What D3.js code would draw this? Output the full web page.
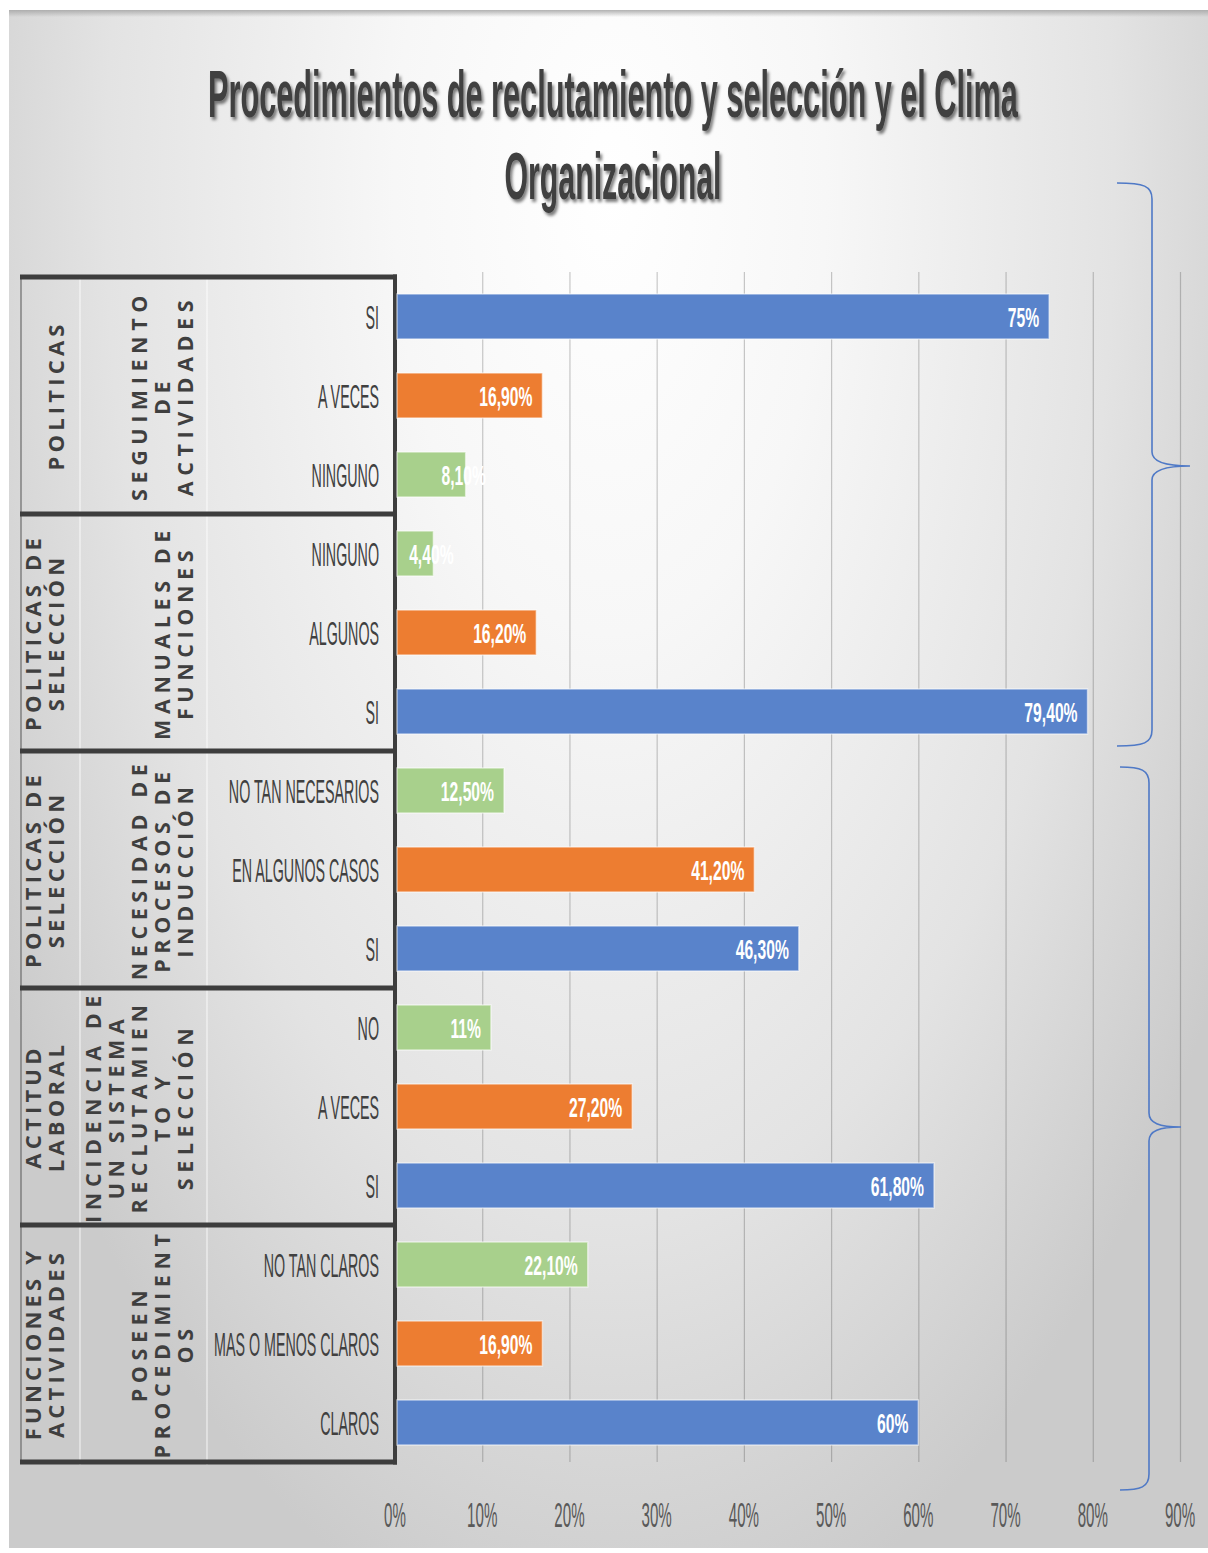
<!DOCTYPE html>
<html>
<head>
<meta charset="utf-8">
<script src="https://cdn.jsdelivr.net/npm/d3@7"></script>
<style>
  html, body { margin: 0; padding: 0; background: #ffffff; }
  svg { display: block; }
</style>
</head>
<body>
<div id="chart"></div>
<script>
// ---- data -------------------------------------------------------------
const categories = [
  "SI", "A VECES", "NINGUNO",
  "NINGUNO", "ALGUNOS", "SI",
  "NO TAN NECESARIOS", "EN ALGUNOS CASOS", "SI",
  "NO", "A VECES", "SI",
  "NO TAN CLAROS", "MAS O MENOS CLAROS", "CLAROS"
];
const values = [75, 16.9, 8.1, 4.4, 16.2, 79.4, 12.5, 41.2, 46.3, 11, 27.2, 61.8, 22.1, 16.9, 60];
const tones = [
  "alto", "medio", "bajo",
  "bajo", "medio", "alto",
  "bajo", "medio", "alto",
  "bajo", "medio", "alto",
  "bajo", "medio", "alto"
];
const outerGroups = [
  ["POLITICAS"],
  ["POLITICAS DE", "SELECCIÓN"],
  ["POLITICAS DE", "SELECCIÓN"],
  ["ACTITUD", "LABORAL"],
  ["FUNCIONES Y", "ACTIVIDADES"]
];
const innerGroups = [
  ["SEGUIMIENTO", "DE", "ACTIVIDADES"],
  ["MANUALES DE", "FUNCIONES"],
  ["NECESIDAD DE", "PROCESOS DE", "INDUCCIÓN"],
  ["INCIDENCIA DE", "UN SISTEMA", "RECLUTAMIEN", "TO Y", "SELECCIÓN"],
  ["POSEEN", "PROCEDIMIENT", "OS"]
];
const tickValues = [0, 10, 20, 30, 40, 50, 60, 70, 80, 90];
const titleLines = ["Procedimientos de reclutamiento y selección y el Clima", "Organizacional"];

// ---- setup ------------------------------------------------------------
const W = 1208, H = 1553;
const toneColor = { alto: "#5983cb", medio: "#ed7d31", bajo: "#a8d08c" };
const fmt = v => (v % 1 === 0 ? v + "%" : v.toFixed(2).replace(".", ",") + "%");

const svg = d3.select("#chart").append("svg")
  .attr("width", W).attr("height", H)
  .attr("viewBox", `0 0 ${W} ${H}`);

const defs = svg.append("defs");
const bg = defs.append("radialGradient")
  .attr("id", "panelBg")
  .attr("gradientUnits", "userSpaceOnUse")
  .attr("cx", 610).attr("cy", 190).attr("r", 720)
  .attr("gradientTransform", "translate(610,190) scale(1,2.05) translate(-610,-190)");
bg.append("stop").attr("offset", 0).attr("stop-color", "#ffffff");
bg.append("stop").attr("offset", 0.3).attr("stop-color", "#f7f7f7");
bg.append("stop").attr("offset", 0.7).attr("stop-color", "#e3e3e3");
bg.append("stop").attr("offset", 1).attr("stop-color", "#cbcbcb");

const topEdge = defs.append("linearGradient").attr("id", "topEdge")
  .attr("x1", 0).attr("y1", 0).attr("x2", 0).attr("y2", 1);
topEdge.append("stop").attr("offset", 0).attr("stop-color", "#a9a9a9").attr("stop-opacity", 0.9);
topEdge.append("stop").attr("offset", 1).attr("stop-color", "#a9a9a9").attr("stop-opacity", 0);

const shadow = defs.append("filter").attr("id", "titleShadow")
  .attr("x", "-5%").attr("y", "-20%").attr("width", "110%").attr("height", "150%");
shadow.append("feDropShadow")
  .attr("dx", 2).attr("dy", 3).attr("stdDeviation", 1.4)
  .attr("flood-color", "#000").attr("flood-opacity", 0.5);

// panel
svg.append("rect").attr("x", 9).attr("y", 10).attr("width", W - 9).attr("height", 1538)
  .attr("fill", "url(#panelBg)");
svg.append("rect").attr("x", 9).attr("y", 10).attr("width", W - 9).attr("height", 7)
  .attr("fill", "url(#topEdge)");

// ---- scales -----------------------------------------------------------
const plotTop = 277, plotBottom = 1462;
const x = d3.scaleLinear().domain([0, 90]).range([395, 1180]);
const y = d3.scaleBand().domain(d3.range(categories.length))
  .range([plotTop, plotBottom]).paddingInner(0.43).paddingOuter(0.215);
const step = y.step();

// ---- gridlines --------------------------------------------------------
const grid = svg.append("g")
  .attr("transform", `translate(0,${plotBottom})`)
  .call(d3.axisBottom(x).tickValues(tickValues.filter(t => t > 0))
    .tickSize(-(plotBottom - 272)).tickFormat(""));
grid.select(".domain").remove();
grid.selectAll(".tick line").attr("stroke", "#3a3a3a").attr("stroke-opacity", 0.27).attr("stroke-width", 1.2);

// ---- table on the left -------------------------------------------------
const table = svg.append("g");
[80, 207].forEach(cx => {
  table.append("line").attr("x1", cx).attr("x2", cx)
    .attr("y1", plotTop).attr("y2", plotBottom + 3)
    .attr("stroke", "#ffffff").attr("stroke-opacity", 0.7).attr("stroke-width", 1.2);
});
table.append("line").attr("x1", 21).attr("x2", 21)
  .attr("y1", plotTop).attr("y2", plotBottom)
  .attr("stroke", "#6a6a6a").attr("stroke-width", 1.2);

const groupCount = outerGroups.length;
d3.range(groupCount + 1).forEach(k => {
  const gy = plotTop + k * 3 * step;
  table.append("line").attr("x1", 20).attr("x2", 397)
    .attr("y1", gy).attr("y2", gy)
    .attr("stroke", "#3d3d3d").attr("stroke-width", 5);
});
table.append("line").attr("x1", 395).attr("x2", 395)
  .attr("y1", plotTop - 2.5).attr("y2", plotBottom + 2.5)
  .attr("stroke", "#3d3d3d").attr("stroke-width", 4);

// rotated group labels
function rotatedBlock(lines, gIndex, lastX, gap, size, spacing) {
  const cy = plotTop + (gIndex * 3 + 1.5) * step;
  const cap = size * 0.72;
  lines.forEach((ln, i) => {
    const cx = lastX - (lines.length - 1 - i) * gap;
    table.append("text")
      .attr("transform", `translate(${cx},${cy}) rotate(-90)`)
      .attr("x", 0).attr("y", cap / 2)
      .attr("text-anchor", "middle")
      .attr("font-family", "'Open Sans', 'Liberation Sans', sans-serif")
      .attr("font-weight", 700)
      .attr("font-size", size)
      .attr("letter-spacing", spacing)
      .attr("fill", "#3f3f3f")
      .text(ln);
  });
}
outerGroups.forEach((lines, i) => rotatedBlock(lines, i, 56, 23, 22, 4.2));
innerGroups.forEach((lines, i) => rotatedBlock(lines, i, 185, 23, 21.5, 5.6));

// category labels
svg.append("g").selectAll("text")
  .data(categories)
  .join("text")
  .attr("transform", (d, i) => `translate(379,${y(i) + y.bandwidth() / 2 + 12.5}) scale(0.42,1)`)
  .attr("text-anchor", "end")
  .attr("font-family", "'Liberation Sans', Arial, sans-serif")
  .attr("font-size", 34)
  .attr("fill", "#404040")
  .text(d => d);

// ---- bars -------------------------------------------------------------
svg.append("g").selectAll("rect")
  .data(values)
  .join("rect")
  .attr("x", x(0) + 2)
  .attr("y", (d, i) => y(i))
  .attr("width", d => x(d) - x(0) - 2)
  .attr("height", y.bandwidth())
  .attr("fill", (d, i) => toneColor[tones[i]])
  .attr("stroke", "#ffffff").attr("stroke-opacity", 0.55).attr("stroke-width", 1.5);

// value labels: inside the bar end, or centred on the end for short bars
const shortBar = d => x(d) - x(0) < 78;
svg.append("g").selectAll("text")
  .data(values)
  .join("text")
  .attr("transform", (d, i) => {
    const lx = shortBar(d) ? x(d) - 2 : x(d) - 10;
    return `translate(${lx},${y(i) + y.bandwidth() / 2 + 10}) scale(0.56,1)`;
  })
  .attr("text-anchor", d => (shortBar(d) ? "middle" : "end"))
  .attr("font-family", "'Liberation Sans', Arial, sans-serif")
  .attr("font-weight", "bold")
  .attr("font-size", 28)
  .attr("fill", "#ffffff")
  .text(d => fmt(d));

// ---- x axis labels ----------------------------------------------------
svg.append("g").selectAll("text")
  .data(tickValues)
  .join("text")
  .attr("transform", d => `translate(${x(d)},1527) scale(0.42,1)`)
  .attr("text-anchor", "middle")
  .attr("font-family", "'Liberation Sans', Arial, sans-serif")
  .attr("font-size", 36)
  .attr("fill", "#595959")
  .text(d => d + "%");

// ---- title (condensed to its line widths) -------------------------------
const titleWidths = [810, 217];
const titleBase = [117, 199];
titleLines.forEach((t, i) => {
  const g = svg.append("g").attr("filter", "url(#titleShadow)");
  const txt = g.append("text")
    .attr("x", 0).attr("y", 0)
    .attr("text-anchor", "middle")
    .attr("font-family", "'Liberation Sans', Arial, sans-serif")
    .attr("font-weight", "bold")
    .attr("font-size", 66)
    .attr("fill", "#404040")
    .text(t);
  const natural = txt.node().getComputedTextLength();
  txt.attr("transform", `translate(613,${titleBase[i]}) scale(${titleWidths[i] / natural},1)`);
});

// ---- braces -----------------------------------------------------------
function brace(xv, y0, yTip, y1, xEnd, xTip) {
  return `M${xEnd},${y0} C${xv - 8},${y0} ${xv},${y0 + 3} ${xv},${y0 + 16}` +
    ` L${xv},${yTip - 14} C${xv},${yTip - 4} ${xTip - 22},${yTip} ${xTip},${yTip}` +
    ` C${xTip - 22},${yTip} ${xv},${yTip + 4} ${xv},${yTip + 14}` +
    ` L${xv},${y1 - 16} C${xv},${y1 - 3} ${xv - 8},${y1} ${xEnd},${y1}`;
}
const braces = svg.append("g").attr("fill", "none")
  .attr("stroke", "#4f79c6").attr("stroke-width", 1.6);
braces.append("path").attr("d", brace(1152, 183, 466, 746, 1117, 1190));
braces.append("path").attr("d", brace(1149, 767, 1127, 1490, 1120, 1181));
</script>
</body>
</html>
